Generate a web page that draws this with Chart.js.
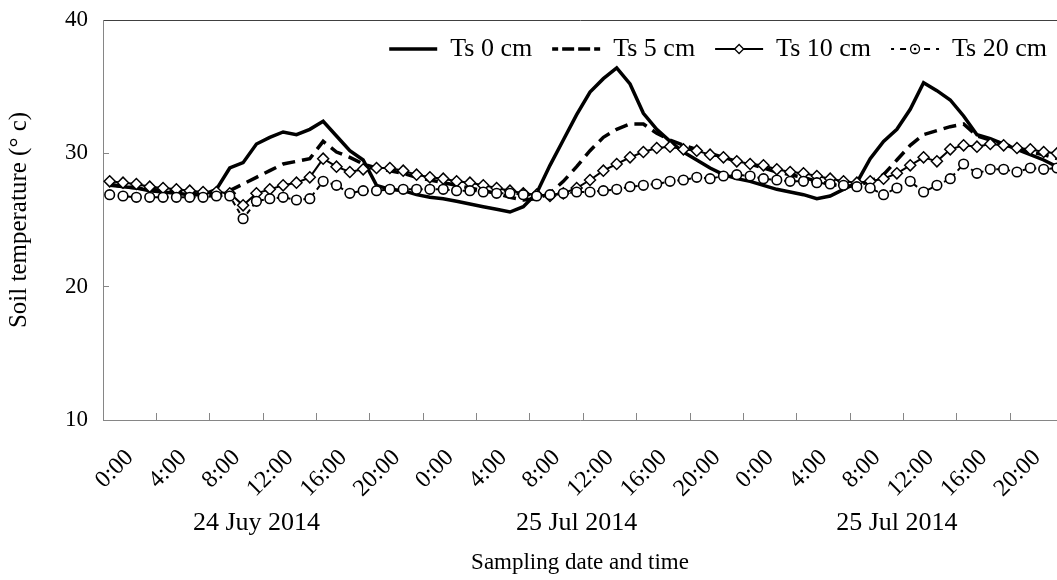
<!DOCTYPE html>
<html>
<head>
<meta charset="utf-8">
<script src="https://cdn.jsdelivr.net/npm/chart.js@4/dist/chart.umd.min.js"></script>
<style>
  html, body { margin: 0; padding: 0; background: #fff; }
  #wrap { position: relative; width: 1057px; height: 580px; }
</style>
</head>
<body>
<div id="wrap"><canvas id="chart"></canvas></div>
<script>
// hourly readings, 3 days (last hour is cut off by the frame)
const hours = Array.from({ length: 72 }, (_, i) => i)
const hourLabels = ['0:00', '4:00', '8:00', '12:00', '16:00', '20:00',
                    '0:00', '4:00', '8:00', '12:00', '16:00', '20:00',
                    '0:00', '4:00', '8:00', '12:00', '16:00', '20:00']
const dateLabels = ['24 Juy 2014', '25 Jul 2014', '25 Jul 2014']
const yTicks = [10, 20, 30, 40]

const ts0 = [
  27.7, 27.5, 27.4, 27.2, 27.1, 27.0, 26.9, 26.9,
  27.3, 28.9, 29.3, 30.7, 31.2, 31.6, 31.4, 31.8,
  32.4, 31.3, 30.2, 29.5, 27.6, 27.3, 27.2, 26.9,
  26.7, 26.6, 26.4, 26.2, 26.0, 25.8, 25.6, 26.0,
  27.0, 29.1, 31.0, 32.9, 34.6, 35.6, 36.4, 35.2,
  33.0, 31.8, 30.9, 30.1, 29.5, 28.9, 28.4, 28.1,
  27.9, 27.6, 27.3, 27.1, 26.9, 26.6, 26.8, 27.3,
  27.8, 29.6, 30.9, 31.8, 33.3, 35.3, 34.7, 34.0,
  32.8, 31.4, 31.1, 30.7, 30.3, 29.9, 29.5, 29.0
]
const ts5 = [
  27.6, 27.5, 27.4, 27.3, 27.2, 27.1, 27.0, 26.9,
  26.9, 27.2, 27.7, 28.2, 28.7, 29.2, 29.4, 29.6,
  30.9, 30.1, 29.7, 29.2, 28.9, 28.7, 28.5, 28.2,
  28.0, 27.8, 27.6, 27.4, 27.2, 27.0, 26.7, 26.5,
  26.6, 27.0, 27.9, 29.0, 30.2, 31.2, 31.8, 32.2,
  32.2, 31.5, 31.0, 30.6, 30.3, 30.0, 29.7, 29.4,
  29.2, 28.9, 28.6, 28.4, 28.2, 27.9, 27.7, 27.5,
  27.6, 27.9, 28.4, 29.5, 30.6, 31.4, 31.7, 32.0,
  32.2, 31.3, 31.0, 30.7, 30.4, 30.1, 29.9, 29.6
]
const ts10 = [
  27.9, 27.8, 27.7, 27.5, 27.4, 27.3, 27.2, 27.1,
  27.1, 27.0, 26.1, 27.0, 27.3, 27.6, 27.8, 28.2,
  29.6, 29.0, 28.6, 28.8, 28.9, 28.9, 28.7, 28.4,
  28.2, 28.1, 27.9, 27.8, 27.6, 27.4, 27.2, 27.0,
  26.9, 26.8, 27.0, 27.4, 28.0, 28.7, 29.2, 29.7,
  30.1, 30.4, 30.5, 30.3, 30.2, 29.9, 29.7, 29.4,
  29.2, 29.1, 28.8, 28.6, 28.5, 28.3, 28.1, 27.9,
  27.8, 27.9, 28.1, 28.5, 29.1, 29.7, 29.4, 30.3,
  30.6, 30.5, 30.7, 30.6, 30.4, 30.3, 30.1, 30.0
]
const ts20 = [
  26.9, 26.8, 26.7, 26.7, 26.7, 26.7, 26.7, 26.7,
  26.8, 26.8, 25.1, 26.4, 26.6, 26.7, 26.5, 26.6,
  27.9, 27.6, 27.0, 27.2, 27.2, 27.3, 27.3, 27.3,
  27.3, 27.3, 27.2, 27.2, 27.1, 27.0, 27.0, 26.9,
  26.8, 26.9, 27.0, 27.1, 27.1, 27.2, 27.3, 27.5,
  27.6, 27.7, 27.9, 28.0, 28.2, 28.1, 28.3, 28.4,
  28.3, 28.1, 28.0, 27.9, 27.9, 27.8, 27.7, 27.6,
  27.5, 27.4, 26.9, 27.4, 27.9, 27.1, 27.6, 28.1,
  29.2, 28.5, 28.8, 28.8, 28.6, 28.9, 28.8, 28.9
]

const X_MAX = 71.5   // the frame cuts the plot just before 24:00 of day 3
const GRAY = '#868686'
const LEGEND_BOX = 48
const LEGEND_GAP = 20
const toPoints = values => values.map((v, i) => ({ x: hours[i] + 0.5, y: v }))
const noSidePadding = axis => { axis.paddingLeft = 0; axis.paddingRight = 0 }

Chart.defaults.font.family = "'Liberation Serif', 'Times New Roman', serif"
Chart.defaults.font.size = 23
Chart.defaults.color = '#000'

// legend line samples are zero-height boxes, stroked there and back,
// so the dash pattern has to repeat evenly over twice the box width
const legendDash = { 'Ts 5 cm': [12, 4], 'Ts 20 cm': [6, 6] }

// Excel-style legend: one row, inside the plot, top right
const legendInPlot = {
  id: 'legendInPlot',
  beforeLayout(chart) {
    if (chart.legend) chart.legend.isHorizontal = () => true
  },
  afterLayout(chart) {
    const legend = chart.legend
    if (!legend) return
    const area = chart.chartArea
    legend.left = area.left
    legend.right = area.right + LEGEND_GAP - 10
    legend.top = area.top + 16 - LEGEND_GAP
  },
  afterDraw(chart) {
    const legend = chart.legend
    if (!legend || !legend.legendHitBoxes) return
    const c = chart.ctx
    const fontSize = legend.options.labels.font.size
    legend.legendItems.forEach((item, i) => {
      const ds = chart.data.datasets[item.datasetIndex]
      if (!ds.pointRadius) return
      const box = legend.legendHitBoxes[i]
      const x = box.left + LEGEND_BOX / 2
      const y = box.top + fontSize / 2
      c.save()
      c.setLineDash([])
      c.fillStyle = '#fff'
      c.strokeStyle = '#000'
      c.lineWidth = 1.3
      Chart.helpers.drawPoint(c, { pointStyle: ds.pointStyle, radius: 4.5, borderWidth: 1.3 }, x, y)
      if (ds.pointStyle === 'circle') {
        c.fillStyle = '#000'
        c.beginPath()
        c.arc(x, y, 1.3, 0, Math.PI * 2)
        c.fill()
      }
      c.restore()
    })
  }
}

new Chart(document.getElementById('chart'), {
  type: 'line',
  data: {
    datasets: [
      { label: 'Ts 0 cm', data: toPoints(ts0), borderColor: '#000', backgroundColor: '#000',
        borderWidth: 3.5, pointRadius: 0, order: 3 },
      { label: 'Ts 5 cm', data: toPoints(ts5), borderColor: '#000', backgroundColor: '#000',
        borderWidth: 3.5, borderDash: [13, 7], pointRadius: 0, order: 2 },
      { label: 'Ts 10 cm', data: toPoints(ts10), borderColor: '#000', backgroundColor: '#fff',
        borderWidth: 2, pointStyle: 'rectRot', pointRadius: 5.5, pointBorderWidth: 1.5,
        pointBackgroundColor: '#fff', pointBorderColor: '#000', order: 1 },
      { label: 'Ts 20 cm', data: toPoints(ts20), borderColor: '#000', backgroundColor: '#fff',
        borderWidth: 2, borderDash: [5, 4], pointStyle: 'circle', pointRadius: 4.8, pointBorderWidth: 1.6,
        pointBackgroundColor: '#fff', pointBorderColor: '#000', order: 0 }
    ]
  },
  options: {
    responsive: true,
    maintainAspectRatio: false,
    animation: false,
    layout: { autoPadding: false, padding: { top: 20, left: 2, right: 0, bottom: 0 } },
    plugins: {
      tooltip: { enabled: false },
      legend: {
        position: 'chartArea',
        align: 'end',
        labels: {
          boxWidth: LEGEND_BOX,
          boxHeight: 0,
          padding: LEGEND_GAP,
          color: '#000',
          font: { size: 26 },
          sort: (a, b) => a.datasetIndex - b.datasetIndex,
          generateLabels: chart =>
            Chart.defaults.plugins.legend.labels.generateLabels(chart).map(item => {
              const dash = legendDash[item.text]
              if (dash) {
                item.lineDash = dash
                item.lineDashOffset = dash[0] / 2
              }
              return item
            })
        }
      }
    },
    scales: {
      x: {
        type: 'linear', position: 'bottom', min: 0, max: X_MAX, weight: 0,
        afterBuildTicks: axis => {
          axis.ticks = []
          for (let v = 0; v <= 70; v += 2) axis.ticks.push({ value: v })
        },
        afterFit: axis => { axis.height = 80; noSidePadding(axis) },
        border: { color: GRAY, width: 1 },
        grid: {
          drawOnChartArea: false,
          tickLength: -7,
          color: c => (c.tick && c.tick.value % 4 === 0) ? GRAY : 'rgba(0,0,0,0)'
        },
        ticks: {
          autoSkip: false, minRotation: 45, maxRotation: 45, padding: 31, font: { size: 24 },
          callback: v => v % 4 === 2 ? hourLabels[(v - 2) / 4] : ''
        }
      },
      xd: {
        type: 'linear', position: 'bottom', min: 0, max: X_MAX, weight: 1,
        afterBuildTicks: axis => { axis.ticks = dateLabels.map((_, d) => ({ value: d * 24 + 11.5 })) },
        afterFit: axis => { axis.height = 80; noSidePadding(axis) },
        border: { display: false },
        grid: { display: false, drawTicks: false },
        ticks: { autoSkip: false, maxRotation: 0, padding: 8, font: { size: 26 },
                 callback: (v, i) => dateLabels[i] },
        title: { display: true, text: 'Sampling date and time', font: { size: 23 }, padding: { top: 4, bottom: 3 } }
      },
      xt: {
        type: 'linear', position: 'top', min: 0, max: X_MAX,
        afterFit: noSidePadding,
        grid: { display: false, drawTicks: false },
        ticks: { display: false },
        border: { color: '#404040', width: 1 }
      },
      y: {
        min: 10, max: 40,
        afterBuildTicks: axis => { axis.ticks = yTicks.map(v => ({ value: v })) },
        afterFit: axis => { axis.width = 101; axis.paddingTop = 0; axis.paddingBottom = 0 },
        border: { color: GRAY, width: 1 },
        grid: { drawOnChartArea: false, tickLength: -6, color: GRAY },
        ticks: { padding: 21 },
        title: { display: true, text: 'Soil temperature (° c)', font: { size: 25 }, padding: { top: 2, bottom: 0 } }
      }
    }
  },
  plugins: [legendInPlot]
})
</script>
</body>
</html>
